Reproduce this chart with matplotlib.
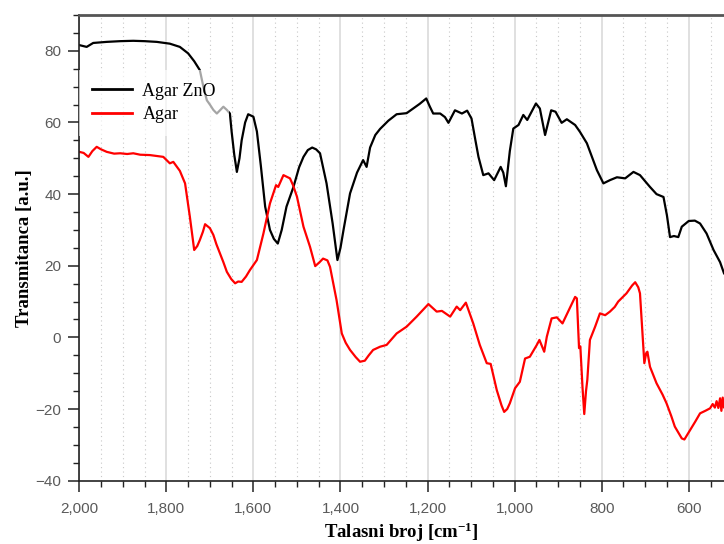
import matplotlib
matplotlib.use('Agg')
import matplotlib.pyplot as plt
from matplotlib.ticker import MultipleLocator, FuncFormatter

plt.rcParams['font.family'] = ['Liberation Sans', 'DejaVu Sans']
plt.rcParams['mathtext.fontset'] = 'custom'
plt.rcParams['mathtext.rm'] = 'Liberation Serif:bold'
plt.rcParams['mathtext.default'] = 'rm'

# FTIR spectra (wavenumber in cm^-1, transmittance in a.u.)
wn_zno = [2000, 1983, 1968, 1937, 1906, 1876, 1850, 1822, 1792, 1769, 1750, 1736,
          1723, 1715, 1707, 1700, 1692, 1684, 1676, 1669, 1661, 1654, 1650, 1644,
          1638, 1632, 1627, 1619, 1612, 1600, 1592, 1583, 1573, 1562, 1553, 1544,
          1535, 1524, 1508, 1495, 1485, 1475, 1465, 1456, 1447, 1432, 1418, 1407,
          1400, 1393, 1378, 1362, 1348, 1340, 1332, 1320, 1309, 1290, 1271, 1248,
          1233, 1218, 1203, 1195, 1187, 1171, 1160, 1152, 1137, 1121, 1109, 1099,
          1090, 1083, 1072, 1060, 1047, 1032, 1026, 1020, 1011, 1003, 991, 980,
          971, 951, 942, 930, 916, 906, 892, 880, 861, 850, 834, 811,
          796, 781, 765, 746, 727, 712, 696, 689, 674, 658, 650, 643,
          634, 624, 616, 600, 586, 574, 559, 543, 528, 519]
t_zno = [81.6, 81.1, 82.2, 82.5, 82.7, 82.8, 82.7, 82.5, 82.0, 81.1, 79.3, 77.1,
         74.6, 70.0, 66.2, 65.0, 63.5, 62.5, 63.5, 64.4, 63.5, 62.5, 57.4, 51.0,
         46.2, 50.0, 55.0, 60.0, 62.3, 61.6, 57.5, 48.0, 36.5, 30.0, 27.5, 26.2,
         30.0, 36.5, 42.0, 47.5, 50.4, 52.3, 53.0, 52.5, 51.4, 43.0, 31.8, 21.6,
         25.0, 30.0, 40.2, 46.0, 49.5, 47.6, 53.0, 56.5, 58.2, 60.5, 62.3, 62.6,
         63.9, 65.2, 66.7, 64.5, 62.5, 62.5, 61.5, 59.9, 63.4, 62.5, 63.3, 61.1,
         55.0, 50.4, 45.3, 45.8, 43.9, 47.6, 46.0, 42.2, 52.0, 58.3, 59.3, 62.1,
         60.7, 65.3, 63.9, 56.5, 63.4, 63.0, 59.9, 60.9, 59.3, 57.4, 54.2, 46.7,
         43.0, 43.9, 44.7, 44.4, 46.2, 45.3, 43.0, 42.0, 40.0, 39.2, 34.0, 28.0,
         28.3, 28.0, 30.9, 32.5, 32.6, 31.8, 29.0, 24.4, 21.0, 17.9]

wn_agar = [2000, 1990, 1979, 1970, 1960, 1950, 1937, 1920, 1906, 1890, 1876, 1860,
           1838, 1820, 1807, 1792, 1784, 1769, 1757, 1746, 1736, 1729, 1723, 1716,
           1711, 1700, 1692, 1685, 1677, 1669, 1661, 1651, 1642, 1635, 1627, 1617,
           1608, 1592, 1577, 1562, 1548, 1543, 1531, 1516, 1509, 1500, 1485, 1470,
           1458, 1448, 1440, 1430, 1424, 1409, 1397, 1388, 1378, 1365, 1355, 1344,
           1335, 1325, 1309, 1294, 1271, 1248, 1225, 1198, 1179, 1167, 1148, 1133,
           1125, 1112, 1095, 1080, 1064, 1055, 1041, 1030, 1024, 1017, 1011, 999,
           988, 976, 965, 949, 943, 937, 932, 926, 915, 903, 890, 877,
           861, 857, 852, 849, 844, 840, 836, 833, 827, 815, 804, 792,
           781, 770, 762, 743, 730, 723, 716, 712, 702, 698, 695, 689,
           674, 660, 651, 640, 632, 616, 610, 597, 585, 574, 562, 551,
           545, 540, 536, 532, 528, 525, 522, 519]
t_agar = [51.8, 51.5, 50.4, 52.0, 53.2, 52.5, 51.8, 51.3, 51.4, 51.2, 51.4, 51.0,
          50.9, 50.6, 50.4, 48.6, 49.0, 46.5, 43.0, 33.7, 24.4, 25.5, 27.2, 29.5,
          31.6, 30.5, 28.6, 26.0, 23.5, 21.0, 18.3, 16.3, 15.1, 15.6, 15.5, 17.0,
          18.8, 21.6, 29.0, 37.4, 42.5, 42.0, 45.3, 44.4, 42.5, 39.3, 30.9, 25.3,
          19.9, 21.0, 22.0, 21.5, 19.7, 10.4, 1.1, -1.5, -3.5, -5.5, -6.8, -6.5,
          -5.0, -3.5, -2.6, -2.1, 1.1, 3.0, 5.8, 9.3, 7.2, 7.4, 5.8, 8.6,
          7.6, 9.7, 3.9, -2.1, -7.2, -7.4, -14.7, -19.0, -20.8, -20.0, -18.4, -14.2,
          -12.4, -5.9, -5.4, -2.1, -0.7, -2.5, -4.0, 0.2, 5.3, 5.6, 3.9, 7.2,
          11.3, 10.9, -3.0, -2.5, -14.0, -21.4, -15.0, -11.9, -0.7, 3.0, 6.7, 6.2,
          7.2, 8.5, 10.0, 12.3, 14.5, 15.4, 14.0, 12.3, -7.2, -4.5, -4.0, -8.2,
          -12.8, -16.0, -18.4, -22.0, -24.9, -28.2, -28.5, -25.9, -23.5, -21.2, -20.5, -19.8,
          -18.6, -19.6, -17.8, -19.7, -17.0, -20.5, -16.8, -19.5]

fig = plt.figure(figsize=(7.24, 5.44), dpi=100)
ax = fig.add_axes([0.1095, 0.1164, 0.8905, 0.856])

ax.plot(wn_zno, t_zno, color='black', lw=1.6, label='Agar ZnO')
ax.plot(wn_agar, t_agar, color='red', lw=1.6, label='Agar')

ax.set_xlim(2000, 519)
ax.set_ylim(-40, 90)

# ticks: majors every 200 / 20, minors every 50 / 5
ax.xaxis.set_major_locator(MultipleLocator(200))
ax.xaxis.set_minor_locator(MultipleLocator(50))
ax.yaxis.set_major_locator(MultipleLocator(20))
ax.yaxis.set_minor_locator(MultipleLocator(5))
ax.xaxis.set_major_formatter(FuncFormatter(lambda v, p: f'{v:,.0f}'))
ax.tick_params(which='major', direction='out', length=8, width=1.1,
               color='#222222', labelcolor='#5a5a5a', labelsize=11)
ax.tick_params(axis='x', which='major', pad=7)
ax.tick_params(axis='y', which='major', pad=5)
ax.tick_params(which='minor', direction='out', length=4.5, width=1.0, color='#222222')

# vertical grid only
ax.set_axisbelow(True)
ax.grid(which='major', axis='x', color='#dddddd', lw=1.3, ls='-')
ax.grid(which='minor', axis='x', color='#c8c8c8', lw=0.8, ls=(0, (1, 3)))

ax.spines['right'].set_visible(False)
ax.spines['top'].set_color('#555555')
ax.spines['top'].set_linewidth(2)
ax.spines['left'].set_color('#222222')
ax.spines['bottom'].set_color('#222222')
ax.spines['left'].set_linewidth(1.2)
ax.spines['bottom'].set_linewidth(1.2)

ax.set_xlabel('Talasni broj [cm$^{-1}$]', family='Liberation Serif',
              fontweight='bold', fontsize=13.5, labelpad=4)
ax.set_ylabel('Transmitanca [a.u.]', family='Liberation Serif',
              fontweight='bold', fontsize=13.5, labelpad=2)

leg = ax.legend(loc='upper left', bbox_to_anchor=(0, 0.882), borderaxespad=0,
                frameon=True, facecolor='white', edgecolor='none', framealpha=0.65,
                fancybox=False, prop={'family': 'Liberation Serif', 'size': 13},
                handlelength=2.2, handletextpad=0.6, labelspacing=0.35, borderpad=0.7)
for line in leg.get_lines():
    line.set_linewidth(2)

fig.savefig('out.png', dpi=100)
